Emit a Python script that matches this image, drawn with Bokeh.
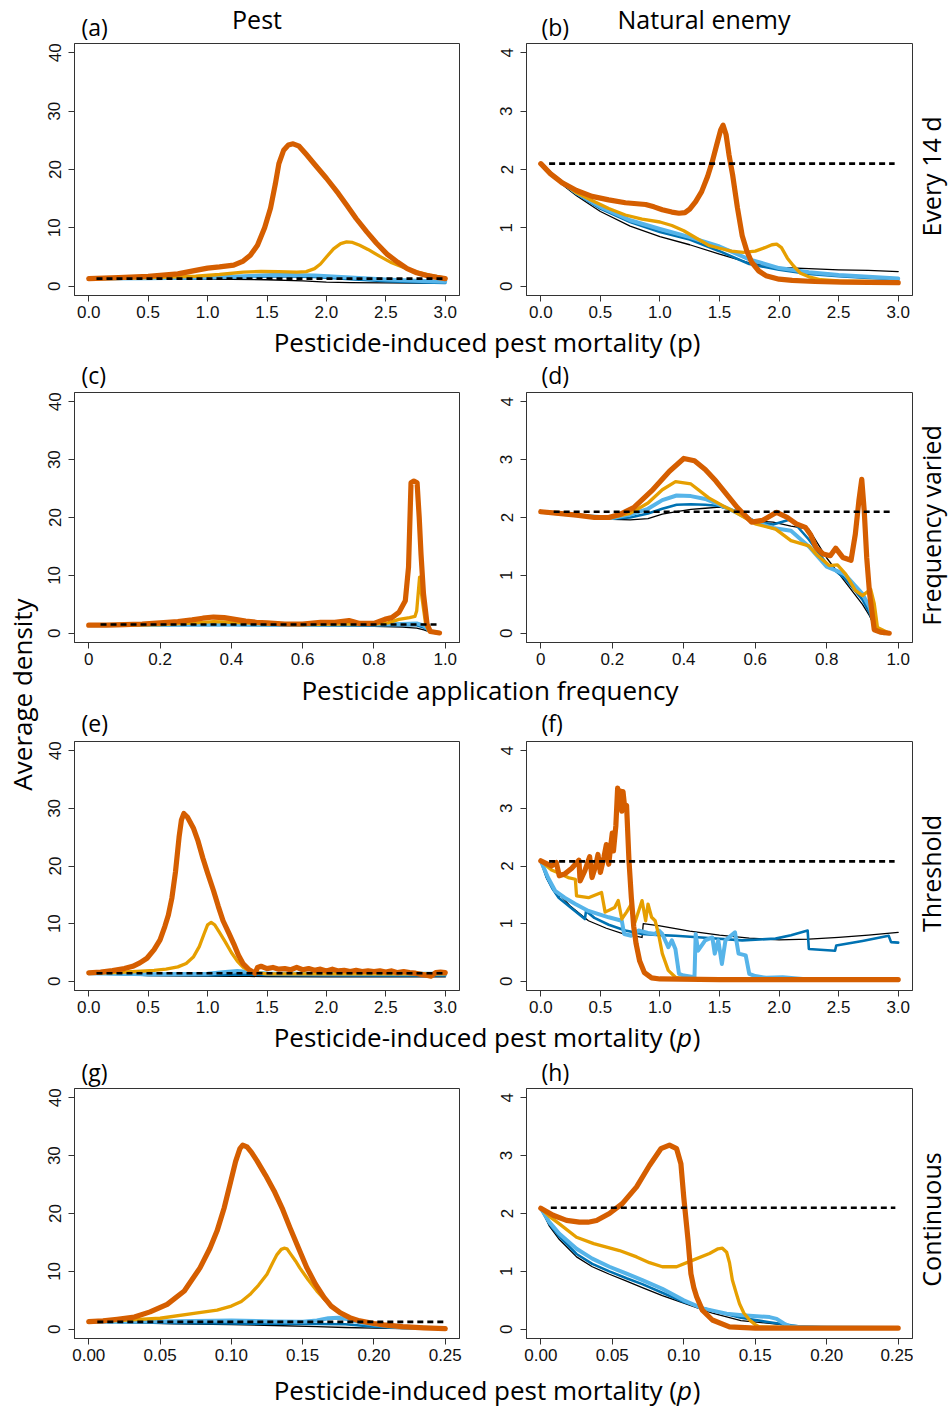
import math
from bokeh.plotting import figure
from bokeh.layouts import row, column
from bokeh.models import Range1d, FixedTicker, NumeralTickFormatter
from bokeh.embed import file_html
from bokeh.resources import INLINE
from bokeh.core.properties import value

# ---------------- data ----------------
# (a) Pest, every 14 d
a_red_x = [0, 0.25, 0.5, 0.75, 0.9, 1.0, 1.1, 1.22, 1.3, 1.36, 1.42, 1.48, 1.53, 1.57, 1.6, 1.64, 1.68, 1.72, 1.77, 1.83, 1.9, 2.0, 2.1, 2.17, 2.25, 2.34, 2.42, 2.51, 2.6, 2.68, 2.76, 2.85, 2.93, 3.0]
a_red_y = [1.3, 1.45, 1.7, 2.1, 2.7, 3.1, 3.3, 3.6, 4.3, 5.3, 7.0, 10.0, 13.4, 17.5, 21.0, 23.3, 24.2, 24.4, 24.0, 22.6, 20.9, 18.5, 15.9, 13.9, 11.6, 9.3, 7.4, 5.5, 4.1, 3.0, 2.3, 1.8, 1.5, 1.3]
a_orange_x = [0, 0.3, 0.6, 0.9, 1.1, 1.3, 1.45, 1.6, 1.75, 1.83, 1.9, 1.95, 2.0, 2.06, 2.12, 2.17, 2.22, 2.28, 2.35, 2.45, 2.55, 2.65, 2.75, 2.87, 3.0]
a_orange_y = [1.3, 1.35, 1.5, 1.7, 2.0, 2.4, 2.55, 2.5, 2.4, 2.5, 3.0, 3.8, 5.0, 6.4, 7.3, 7.6, 7.5, 7.0, 6.3, 5.1, 4.0, 3.2, 2.5, 1.9, 1.4]
a_bg_x = [0, 0.5, 1.0, 1.3, 1.6, 1.9, 2.2, 2.5, 2.8, 3.0]
a_sky_y = [1.3, 1.35, 1.5, 1.7, 1.95, 1.85, 1.5, 1.15, 0.9, 0.75]
a_blue_y = [1.3, 1.3, 1.4, 1.55, 1.7, 1.6, 1.2, 0.85, 0.65, 0.55]
a_black_x = [0, 0.5, 1.0, 1.5, 1.8, 2.0, 2.2, 2.5, 3.0]
a_black_y = [1.3, 1.25, 1.2, 1.1, 0.9, 0.7, 0.6, 0.55, 0.5]
a_base_x = [0.065, 2.99]
a_base_y = 1.3

# (b) Natural enemy, every 14 d
b_red_x = [0, 0.08, 0.18, 0.3, 0.43, 0.57, 0.71, 0.88, 0.95, 1.02, 1.1, 1.16, 1.21, 1.25, 1.3, 1.35, 1.4, 1.44, 1.48, 1.51, 1.53, 1.555, 1.58, 1.61, 1.65, 1.69, 1.73, 1.77, 1.83, 1.89, 2.0, 2.11, 2.3, 2.53, 2.75, 3.0]
b_red_y = [2.1, 1.93, 1.77, 1.64, 1.54, 1.48, 1.43, 1.40, 1.36, 1.31, 1.27, 1.25, 1.26, 1.32, 1.45, 1.62, 1.88, 2.14, 2.45, 2.68, 2.76, 2.6, 2.25, 1.91, 1.35, 0.87, 0.6, 0.41, 0.26, 0.18, 0.12, 0.10, 0.08, 0.07, 0.065, 0.06]
b_orange_x = [0, 0.1, 0.2, 0.3, 0.43, 0.57, 0.71, 0.85, 1.0, 1.1, 1.2, 1.3, 1.41, 1.5, 1.6, 1.7, 1.8, 1.88, 1.94, 1.98, 2.02, 2.07, 2.12, 2.18, 2.25, 2.35, 2.5, 2.75, 3.0]
b_orange_y = [2.1, 1.9, 1.75, 1.6, 1.47, 1.33, 1.22, 1.15, 1.1, 1.04, 0.95, 0.83, 0.70, 0.65, 0.6, 0.58, 0.6, 0.66, 0.71, 0.72, 0.66, 0.48, 0.35, 0.22, 0.16, 0.11, 0.09, 0.08, 0.07]
b_bg_x = [0, 0.1, 0.2, 0.3, 0.5, 0.75, 1.0, 1.25, 1.5, 1.75, 2.0, 2.25, 2.5, 2.75, 3.0]
b_sky_y = [2.1, 1.9, 1.75, 1.6, 1.36, 1.13, 0.98, 0.84, 0.68, 0.46, 0.31, 0.24, 0.19, 0.16, 0.13]
b_blue_y = [2.1, 1.9, 1.74, 1.58, 1.33, 1.1, 0.93, 0.8, 0.6, 0.38, 0.28, 0.21, 0.17, 0.14, 0.12]
b_black_y = [2.1, 1.88, 1.71, 1.55, 1.28, 1.03, 0.85, 0.71, 0.55, 0.4, 0.32, 0.3, 0.28, 0.27, 0.25]
b_base_x = [0.07, 2.97]
b_base_y = 2.1

# (c) Pest, frequency varied
c_red_x = [0, 0.05, 0.1, 0.15, 0.2, 0.25, 0.29, 0.32, 0.35, 0.38, 0.41, 0.44, 0.47, 0.5, 0.55, 0.6, 0.65, 0.69, 0.73, 0.76, 0.8, 0.83, 0.85, 0.87, 0.888, 0.897, 0.904, 0.912, 0.921, 0.927, 0.932, 0.939, 0.949, 0.958, 0.984]
c_red_y = [1.4, 1.4, 1.5, 1.6, 1.8, 2.0, 2.3, 2.6, 2.8, 2.7, 2.4, 2.1, 1.9, 1.8, 1.6, 1.6, 1.9, 1.9, 2.2, 1.7, 1.7, 2.4, 2.7, 3.6, 5.6, 11.4, 26.0, 26.3, 26.0, 20.0, 13.7, 6.8, 1.6, 0.3, 0.05]
c_orange_x = [0, 0.1, 0.2, 0.3, 0.35, 0.4, 0.5, 0.6, 0.7, 0.8, 0.84, 0.87, 0.9, 0.915, 0.92, 0.928, 0.935, 0.945, 0.955, 0.98]
c_orange_y = [1.4, 1.4, 1.5, 1.8, 2.0, 1.9, 1.6, 1.5, 1.6, 1.6, 1.8, 2.4, 2.7, 2.9, 3.9, 9.7, 6.0, 1.6, 0.3, 0.05]
c_bg_x = [0, 0.2, 0.4, 0.6, 0.8, 0.88, 0.92, 0.94, 0.96, 0.98]
c_sky_y = [1.4, 1.45, 1.5, 1.45, 1.5, 1.6, 1.7, 1.3, 0.3, 0.1]
c_blue_y = [1.4, 1.4, 1.45, 1.4, 1.4, 1.45, 1.4, 1.0, 0.2, 0.05]
c_black_y = [1.35, 1.35, 1.35, 1.3, 1.2, 1.05, 0.9, 0.6, 0.15, 0.05]
c_base_x = [0.033, 0.977]
c_base_y = 1.5

# (d) Natural enemy, frequency varied
d_red_x = [0, 0.05, 0.1, 0.15, 0.19, 0.22, 0.26, 0.31, 0.36, 0.40, 0.43, 0.46, 0.49, 0.52, 0.55, 0.59, 0.62, 0.66, 0.69, 0.715, 0.74, 0.755, 0.77, 0.79, 0.81, 0.825, 0.845, 0.868, 0.88, 0.89, 0.898, 0.905, 0.912, 0.92, 0.933, 0.95, 0.975]
d_red_y = [2.1, 2.07, 2.04, 2.0, 2.0, 2.05, 2.17, 2.46, 2.80, 3.02, 2.98, 2.83, 2.63, 2.4, 2.17, 1.92, 1.95, 2.09, 2.0, 1.89, 1.83, 1.7, 1.48, 1.37, 1.34, 1.47, 1.31, 1.26, 1.71, 2.29, 2.66, 2.11, 1.3, 0.68, 0.06, 0.02, 0.0]
d_orange_x = [0, 0.05, 0.1, 0.15, 0.2, 0.25, 0.3, 0.34, 0.377, 0.42, 0.47, 0.51, 0.545, 0.6, 0.657, 0.70, 0.75, 0.77, 0.807, 0.83, 0.853, 0.88, 0.9, 0.923, 0.933, 0.942, 0.975]
d_orange_y = [2.1, 2.07, 2.04, 2.0, 2.0, 2.07, 2.25, 2.48, 2.62, 2.58, 2.34, 2.2, 2.09, 1.89, 1.80, 1.60, 1.51, 1.37, 1.17, 1.18, 1.02, 0.74, 0.65, 0.76, 0.51, 0.10, 0.0]
d_bg_x = [0, 0.1, 0.2, 0.25, 0.3, 0.34, 0.38, 0.42, 0.46, 0.5, 0.55, 0.6, 0.65, 0.7, 0.75, 0.8, 0.85, 0.9, 0.92, 0.94, 0.96]
d_sky_y = [2.1, 2.04, 1.99, 2.05, 2.15, 2.3, 2.38, 2.37, 2.32, 2.22, 2.08, 1.92, 1.82, 1.77, 1.5, 1.15, 1.02, 0.68, 0.45, 0.05, 0.0]
d_blue_y = [2.1, 2.04, 1.98, 2.0, 2.07, 2.15, 2.22, 2.23, 2.22, 2.2, 2.1, 1.93, 1.88, 1.97, 1.62, 1.2, 0.95, 0.58, 0.35, 0.03, 0.0]
d_black_y = [2.1, 2.04, 1.97, 1.96, 1.98, 2.06, 2.1, 2.14, 2.16, 2.18, 2.12, 1.94, 1.92, 1.85, 1.8, 1.3, 0.9, 0.5, 0.3, 0.03, 0.0]
d_base_x = [0.036, 0.98]
d_base_y = 2.1

# (e) Pest, threshold
e_red_x = [0, 0.1, 0.2, 0.3, 0.37, 0.43, 0.49, 0.55, 0.6, 0.64, 0.67, 0.7, 0.73, 0.76, 0.78, 0.8, 0.83, 0.88, 0.92, 0.96, 1.0, 1.05, 1.09, 1.13, 1.18, 1.22, 1.26, 1.3, 1.35, 1.4, 1.42, 1.45, 1.5, 1.55, 1.6, 1.65, 1.7, 1.75, 1.8, 1.85, 1.9, 1.95, 2.0, 2.05, 2.1, 2.15, 2.2, 2.25, 2.3, 2.35, 2.4, 2.45, 2.5, 2.55, 2.6, 2.65, 2.7, 2.75, 2.8, 2.85, 2.88, 2.92, 2.96, 3.0]
e_red_y = [1.45, 1.6, 1.85, 2.2, 2.6, 3.2, 4.0, 5.5, 7.2, 9.5, 11.5, 14.5, 19.0, 25.0, 28.0, 29.1, 28.5, 26.6, 24.3, 21.4, 18.8, 15.7, 13.0, 10.5, 8.3, 6.5, 4.5, 3.0, 2.0, 1.4, 2.4, 2.6, 2.2, 2.4, 2.1, 2.2, 2.0, 2.4, 2.0, 2.2, 1.9, 2.1, 1.8, 2.1, 1.8, 1.9, 1.7, 1.9, 1.7, 1.8, 1.7, 1.8, 1.6, 1.8, 1.5, 1.7, 1.5, 1.4, 1.2, 1.0, 0.9, 1.5, 1.6, 1.5]
e_orange_x = [0, 0.2, 0.4, 0.55, 0.65, 0.75, 0.82, 0.88, 0.93, 0.97, 1.0, 1.03, 1.06, 1.1, 1.15, 1.2, 1.25, 1.3, 1.35, 1.4, 1.5, 2.0, 2.5, 3.0]
e_orange_y = [1.4, 1.5, 1.7, 1.9, 2.1, 2.5, 3.1, 4.2, 6.0, 8.2, 9.8, 10.2, 9.8, 8.5, 6.8, 5.0, 3.5, 2.4, 1.8, 1.5, 1.3, 1.3, 1.3, 1.3]
e_bg_x = [0, 0.5, 1.0, 1.15, 1.25, 1.35, 1.5, 2.0, 2.5, 3.0]
e_sky_y = [1.4, 1.2, 1.3, 1.6, 1.8, 1.6, 1.35, 1.3, 1.3, 1.3]
e_blue_y = [1.4, 1.1, 1.05, 1.1, 1.2, 1.15, 1.1, 1.05, 1.0, 1.0]
e_black_y = [1.4, 1.0, 0.9, 0.85, 0.85, 0.85, 0.8, 0.75, 0.75, 0.75]
e_base_x = [0.065, 3.0]
e_base_y = 1.4

# (f) Natural enemy, threshold
f_red_x = [0, 0.09, 0.13, 0.155, 0.2, 0.26, 0.32, 0.33, 0.37, 0.41, 0.43, 0.46, 0.48, 0.5, 0.53, 0.55, 0.57, 0.59, 0.6, 0.61, 0.63, 0.645, 0.655, 0.67, 0.68, 0.69, 0.705, 0.72, 0.74, 0.76, 0.78, 0.8, 0.83, 0.87, 0.93, 1.0, 1.5, 2.0, 2.5, 3.0]
f_red_y = [2.09, 2.0, 2.06, 1.83, 1.86, 1.96, 2.1, 1.74, 1.92, 2.16, 1.8, 2.0, 2.2, 1.89, 2.15, 2.37, 2.03, 2.4, 2.57, 2.26, 2.7, 3.35, 3.0, 3.3, 2.95, 3.29, 3.0, 3.05, 2.1, 1.45, 0.95, 0.65, 0.35, 0.15, 0.06, 0.04, 0.03, 0.03, 0.03, 0.03]
f_orange_x = [0, 0.05, 0.09, 0.15, 0.23, 0.29, 0.3, 0.4, 0.51, 0.54, 0.62, 0.65, 0.68, 0.72, 0.76, 0.79, 0.85, 0.88, 0.9, 0.93, 0.96, 0.99, 1.02, 1.07, 1.13, 1.2, 1.5, 2.0, 3.0]
f_orange_y = [2.09, 2.0, 1.93, 1.88, 1.8, 1.77, 1.48, 1.45, 1.54, 1.2, 1.28, 1.4, 1.08, 1.2, 1.34, 1.02, 1.40, 1.05, 1.34, 1.11, 1.05, 0.8, 0.48, 0.19, 0.07, 0.04, 0.03, 0.03, 0.03]
f_sky_x = [0, 0.06, 0.12, 0.2, 0.29, 0.4, 0.57, 0.68, 0.7, 0.76, 0.82, 0.9, 0.96, 0.99, 1.02, 1.07, 1.1, 1.13, 1.16, 1.2, 1.29, 1.3, 1.32, 1.38, 1.44, 1.46, 1.49, 1.52, 1.55, 1.63, 1.66, 1.72, 1.75, 1.8, 1.89, 2.03, 2.2, 2.5, 3.0]
f_sky_y = [2.09, 1.8, 1.57, 1.45, 1.34, 1.22, 1.11, 1.05, 0.82, 0.79, 0.88, 0.84, 0.82, 0.88, 0.82, 0.59, 0.71, 0.56, 0.13, 0.1, 0.07, 0.82, 0.53, 0.71, 0.76, 0.48, 0.71, 0.30, 0.71, 0.85, 0.48, 0.45, 0.13, 0.09, 0.06, 0.07, 0.04, 0.03, 0.02]
f_blue_x = [0, 0.05, 0.1, 0.15, 0.25, 0.37, 0.38, 0.45, 0.57, 0.71, 0.85, 1.0, 1.13, 1.41, 1.69, 1.97, 2.1, 2.24, 2.25, 2.47, 2.48, 2.7, 2.92, 2.94, 3.0]
f_blue_y = [2.09, 1.8, 1.6, 1.45, 1.28, 1.08, 1.22, 1.1, 0.98, 0.88, 0.82, 0.8, 0.79, 0.75, 0.71, 0.74, 0.8, 0.88, 0.56, 0.53, 0.62, 0.7, 0.79, 0.68, 0.67]
f_black_x = [0, 0.05, 0.1, 0.15, 0.16, 0.25, 0.4, 0.55, 0.7, 0.85, 0.86, 1.0, 1.25, 1.5, 1.75, 2.0, 2.25, 2.5, 2.75, 3.0]
f_black_y = [2.09, 1.78, 1.6, 1.45, 1.5, 1.3, 1.05, 0.92, 0.82, 0.76, 1.0, 0.96, 0.87, 0.8, 0.75, 0.72, 0.73, 0.76, 0.8, 0.85]
f_base_x = [0.07, 2.97]
f_base_y = 2.08

# (g) Pest, continuous
g_red_x = [0, 0.01, 0.02, 0.032, 0.043, 0.055, 0.067, 0.078, 0.085, 0.09, 0.095, 0.099, 0.103, 0.106, 0.108, 0.111, 0.114, 0.118, 0.124, 0.13, 0.136, 0.141, 0.147, 0.153, 0.159, 0.165, 0.17, 0.176, 0.183, 0.19, 0.2, 0.207, 0.22, 0.235, 0.25]
g_red_y = [1.3, 1.45, 1.73, 2.1, 3.0, 4.3, 6.6, 10.6, 14.0, 17.0, 21.0, 25.0, 29.0, 31.2, 31.8, 31.5, 30.6, 29.1, 26.6, 23.9, 20.7, 17.6, 14.1, 10.6, 7.8, 5.5, 4.0, 2.9, 2.0, 1.44, 1.0, 0.75, 0.45, 0.25, 0.12]
g_orange_x = [0, 0.02, 0.05, 0.075, 0.09, 0.1, 0.107, 0.113, 0.119, 0.125, 0.129, 0.132, 0.135, 0.137, 0.139, 0.141, 0.145, 0.148, 0.154, 0.16, 0.166, 0.172, 0.178, 0.183, 0.19, 0.195, 0.2, 0.21, 0.22, 0.235, 0.25]
g_orange_y = [1.3, 1.5, 1.9, 2.8, 3.3, 4.0, 4.8, 6.0, 7.6, 9.5, 11.5, 12.9, 13.8, 14.0, 13.9, 13.2, 11.8, 10.6, 8.5, 6.6, 5.0, 3.7, 2.7, 2.0, 1.4, 1.15, 0.95, 0.6, 0.4, 0.22, 0.12]
g_sky_x = [0, 0.03, 0.06, 0.1, 0.13, 0.15, 0.16, 0.168, 0.175, 0.182, 0.19, 0.2, 0.21, 0.225, 0.25]
g_sky_y = [1.3, 1.3, 1.4, 1.5, 1.35, 1.3, 1.5, 1.9, 2.0, 1.7, 1.2, 0.8, 0.5, 0.3, 0.15]
g_blue_x = [0, 0.03, 0.06, 0.1, 0.13, 0.16, 0.18, 0.19, 0.2, 0.21, 0.225, 0.25]
g_blue_y = [1.3, 1.2, 1.1, 1.0, 0.95, 0.9, 0.85, 0.65, 0.45, 0.3, 0.2, 0.12]
g_black_x = [0, 0.03, 0.06, 0.1, 0.13, 0.16, 0.18, 0.2, 0.22, 0.25]
g_black_y = [1.3, 1.1, 0.95, 0.8, 0.65, 0.45, 0.3, 0.2, 0.13, 0.1]
g_base_x = [0.006, 0.249]
g_base_y = 1.27

# (h) Natural enemy, continuous
h_red_x = [0, 0.0086, 0.018, 0.027, 0.033, 0.039, 0.048, 0.057, 0.067, 0.076, 0.084, 0.09, 0.095, 0.098, 0.1, 0.103, 0.105, 0.107, 0.109, 0.113, 0.12, 0.132, 0.15, 0.2, 0.25]
h_red_y = [2.09, 1.97, 1.88, 1.85, 1.85, 1.88, 2.0, 2.17, 2.46, 2.83, 3.12, 3.18, 3.12, 2.86, 2.28, 1.54, 0.96, 0.72, 0.56, 0.33, 0.16, 0.04, 0.02, 0.02, 0.02]
h_orange_x = [0, 0.006, 0.013, 0.025, 0.037, 0.055, 0.067, 0.076, 0.085, 0.095, 0.106, 0.118, 0.124, 0.127, 0.13, 0.132, 0.134, 0.137, 0.139, 0.142, 0.146, 0.15, 0.153, 0.2, 0.25]
h_orange_y = [2.09, 1.95, 1.82, 1.59, 1.48, 1.36, 1.25, 1.15, 1.08, 1.08, 1.19, 1.31, 1.39, 1.4, 1.33, 1.15, 0.85, 0.6, 0.44, 0.28, 0.16, 0.08, 0.04, 0.02, 0.02]
h_sky_x = [0, 0.006, 0.013, 0.025, 0.036, 0.048, 0.06, 0.071, 0.085, 0.1, 0.113, 0.13, 0.141, 0.16, 0.165, 0.17, 0.174, 0.18, 0.2, 0.25]
h_sky_y = [2.09, 1.85, 1.65, 1.39, 1.22, 1.08, 0.96, 0.85, 0.70, 0.5, 0.36, 0.27, 0.24, 0.21, 0.18, 0.1, 0.05, 0.04, 0.03, 0.02]
h_bg_x = [0, 0.006, 0.013, 0.025, 0.036, 0.048, 0.06, 0.071, 0.085, 0.1, 0.12, 0.14, 0.16, 0.18, 0.2, 0.25]
h_blue_y = [2.09, 1.82, 1.6, 1.3, 1.13, 1.0, 0.88, 0.78, 0.63, 0.47, 0.32, 0.2, 0.12, 0.05, 0.03, 0.02]
h_black_y = [2.09, 1.78, 1.55, 1.25, 1.08, 0.95, 0.83, 0.72, 0.58, 0.45, 0.28, 0.15, 0.1, 0.05, 0.04, 0.02]
h_base_x = [0.007, 0.248]
h_base_y = 2.1

# axis ticks
ticks_p3 = [0, 0.5, 1.0, 1.5, 2.0, 2.5, 3.0]
ticks_freq = [0, 0.2, 0.4, 0.6, 0.8, 1.0]
ticks_p025 = [0, 0.05, 0.10, 0.15, 0.20, 0.25]
ticks_pest = [0, 10, 20, 30, 40]
ticks_enemy = [0, 1, 2, 3, 4]

# ---------------- styles ----------------
C_BLACK, C_BLUE, C_SKY, C_ORANGE, C_RED = "#000000", "#0072B2", "#56B4E9", "#E69F00", "#D55E00"
W_BLACK, W_BLUE, W_SKY, W_ORANGE, W_RED = 1.3, 2.6, 4.0, 3.3, 5.2
TITLE_FONT = "Open Sans"
TICK_FONT = "Liberation Sans"

# horizontal geometry (page px; the Bokeh page has no body margin)
LS_W = 40                      # left strip  0 -> 40
LEFT_W, L_BL, L_BR = 435, 34, 16     # 40 -> 475, frame 74 -> 459
RIGHT_W, R_BL, R_BR = 438, 51, 1     # 475 -> 913, frame 526 -> 912
RS_W = 37                      # right strip 913 -> 950
GRID_W = LEFT_W + RIGHT_W
BB = 29                        # bottom border of every panel (ticks + tick labels)


def make_panel(left, fh, xr, yr, xt, xfmt, yt, series, base_x, base_y, zero_override=False):
    width = LEFT_W if left else RIGHT_W
    bl, br = (L_BL, L_BR) if left else (R_BL, R_BR)
    p = figure(width=width, height=1 + fh + BB,
               x_range=Range1d(*xr), y_range=Range1d(*yr),
               min_border_left=bl, min_border_right=br,
               min_border_top=1, min_border_bottom=BB,
               output_backend="svg", toolbar_location=None, tools="", title=None)
    p.grid.visible = False
    p.outline_line_color = "#333333"
    p.outline_line_width = 1
    for ax in (p.xaxis[0], p.yaxis[0]):
        ax.axis_line_color = "#333333"
        ax.major_tick_line_color = "#333333"
        ax.major_tick_out = 6
        ax.major_tick_in = 0
        ax.minor_tick_out = 0
        ax.minor_tick_in = 0
        ax.major_label_text_font = TICK_FONT
        ax.major_label_text_font_size = "17px"
        ax.major_label_text_color = "#111111"
    p.xaxis.ticker = FixedTicker(ticks=xt)
    p.xaxis.formatter = NumeralTickFormatter(format=xfmt)
    if zero_override:
        p.xaxis.major_label_overrides = {0: "0"}
    p.xaxis.major_label_standoff = 4
    p.yaxis.ticker = FixedTicker(ticks=yt)
    p.yaxis.major_label_orientation = "vertical"
    p.yaxis.major_label_standoff = 8

    for xs, ys, col, w in series:
        p.line(xs, ys, line_color=col, line_width=w, line_join="round", line_cap="round")
    p.line(base_x, [base_y] * len(base_x), line_color="black", line_width=2.6, line_dash="6 4")
    return p


def strip(width, height):
    p = figure(width=width, height=height, x_range=Range1d(0, width), y_range=Range1d(0, height),
               x_axis_type=None, y_axis_type=None, min_border=0, output_backend="svg",
               toolbar_location=None, tools="", title=None)
    p.outline_line_color = None
    return p


def put(p, x, y, text, align="center", style="normal", angle=0.0, size="25px"):
    p.text(x=[x], y=[y], text=[text], text_font=value(TITLE_FONT), text_font_size=value(size),
           text_align=value(align), text_baseline=value("middle"), text_font_style=value(style),
           angle=angle, text_color="black")


XR3 = (-0.12, 3.12)
XRF = (-0.04, 1.04)
XRC = (-0.01, 0.26)
YRP = (-1.6, 41.6)
YRE = (-0.16, 4.16)


def five(black_x, black_y, blue_x, blue_y, sky_x, sky_y, or_x, or_y, red_x, red_y):
    return [(black_x, black_y, C_BLACK, W_BLACK), (blue_x, blue_y, C_BLUE, W_BLUE),
            (sky_x, sky_y, C_SKY, W_SKY), (or_x, or_y, C_ORANGE, W_ORANGE),
            (red_x, red_y, C_RED, W_RED)]


# vertical geometry (frames: 43-295, 392-642, 741-990, 1088-1338)
T_H = 42
FH1, FH2, FH3, FH4 = 252, 250, 249, 250
S1_H, S2_H, S3_H, S4_H = 67, 69, 68, 43
TOTAL_H = T_H + S1_H + S2_H + S3_H + S4_H + 4 * (1 + BB) + FH1 + FH2 + FH3 + FH4

pa = make_panel(True, FH1, XR3, YRP, ticks_p3, "0.0", ticks_pest,
                five(a_black_x, a_black_y, a_bg_x, a_blue_y, a_bg_x, a_sky_y, a_orange_x, a_orange_y, a_red_x, a_red_y),
                a_base_x, a_base_y)
pb = make_panel(False, FH1, XR3, YRE, ticks_p3, "0.0", ticks_enemy,
                five(b_bg_x, b_black_y, b_bg_x, b_blue_y, b_bg_x, b_sky_y, b_orange_x, b_orange_y, b_red_x, b_red_y),
                b_base_x, b_base_y)
pc = make_panel(True, FH2, XRF, YRP, ticks_freq, "0.0", ticks_pest,
                five(c_bg_x, c_black_y, c_bg_x, c_blue_y, c_bg_x, c_sky_y, c_orange_x, c_orange_y, c_red_x, c_red_y),
                c_base_x, c_base_y, zero_override=True)
pd_ = make_panel(False, FH2, XRF, YRE, ticks_freq, "0.0", ticks_enemy,
                 five(d_bg_x, d_black_y, d_bg_x, d_blue_y, d_bg_x, d_sky_y, d_orange_x, d_orange_y, d_red_x, d_red_y),
                 d_base_x, d_base_y, zero_override=True)
pe = make_panel(True, FH3, XR3, YRP, ticks_p3, "0.0", ticks_pest,
                five(e_bg_x, e_black_y, e_bg_x, e_blue_y, e_bg_x, e_sky_y, e_orange_x, e_orange_y, e_red_x, e_red_y),
                e_base_x, e_base_y)
pf = make_panel(False, FH3, XR3, YRE, ticks_p3, "0.0", ticks_enemy,
                five(f_black_x, f_black_y, f_blue_x, f_blue_y, f_sky_x, f_sky_y, f_orange_x, f_orange_y, f_red_x, f_red_y),
                f_base_x, f_base_y)
pg = make_panel(True, FH4, XRC, YRP, ticks_p025, "0.00", ticks_pest,
                five(g_black_x, g_black_y, g_blue_x, g_blue_y, g_sky_x, g_sky_y, g_orange_x, g_orange_y, g_red_x, g_red_y),
                g_base_x, g_base_y)
ph = make_panel(False, FH4, XRC, YRE, ticks_p025, "0.00", ticks_enemy,
                five(h_bg_x, h_black_y, h_bg_x, h_blue_y, h_sky_x, h_sky_y, h_orange_x, h_orange_y, h_red_x, h_red_y),
                h_base_x, h_base_y)

LET = "23px"
TIT = "26px"

# top strip: panel letters + column headings
st = strip(GRID_W, T_H)
put(st, 41, 16, "(a)", align="left", size=LET)
put(st, 501, 16, "(b)", align="left", size=LET)
put(st, 216.5, 23.5, "Pest")
put(st, 663.5, 23.5, "Natural enemy")

# strips between rows: x-axis title of the row above + letters of the row below
s1 = strip(GRID_W, S1_H)
put(s1, 660, 49.1, "Pesticide-induced pest mortality (p)", align="right", size=TIT)
put(s1, 41, 16.9, "(c)", align="left", size=LET)
put(s1, 501, 16.9, "(d)", align="left", size=LET)

s2 = strip(GRID_W, S2_H)
put(s2, 449.5, 50.1, "Pesticide application frequency", size=TIT)
put(s2, 41, 17.9, "(e)", align="left", size=LET)
put(s2, 501, 17.9, "(f)", align="left", size=LET)

s3 = strip(GRID_W, S3_H)
put(s3, 636.4, 50.1, "Pesticide-induced pest mortality (", align="right", size=TIT)
put(s3, 636.4, 50.1, "p", align="left", style="italic", size=TIT)
put(s3, 652.3, 50.1, ")", align="left", size=TIT)
put(s3, 41, 15.9, "(g)", align="left", size=LET)
put(s3, 501, 15.9, "(h)", align="left", size=LET)

s4 = strip(GRID_W, S4_H)
put(s4, 636.4, 20.6, "Pesticide-induced pest mortality (", align="right", size=TIT)
put(s4, 636.4, 20.6, "p", align="left", style="italic", size=TIT)
put(s4, 652.3, 20.6, ")", align="left", size=TIT)

# left strip: shared y title
ls = strip(LS_W, TOTAL_H)
put(ls, 21, TOTAL_H - 694, "Average density", angle=math.pi / 2, size="26px")

# right strip: row headings
rs = strip(RS_W, TOTAL_H)
put(rs, 17.5, TOTAL_H - 176, "Every 14 d", angle=math.pi / 2)
put(rs, 17.5, TOTAL_H - 525, "Frequency varied", angle=math.pi / 2)
put(rs, 17.5, TOTAL_H - 873, "Threshold", angle=math.pi / 2)
put(rs, 17.5, TOTAL_H - 1219, "Continuous", angle=math.pi / 2)

grid = column(st, row(pa, pb), s1, row(pc, pd_), s2, row(pe, pf), s3, row(pg, ph), s4)
layout = row(ls, grid, rs)

open("out.html", "w").write(file_html(layout, INLINE))
